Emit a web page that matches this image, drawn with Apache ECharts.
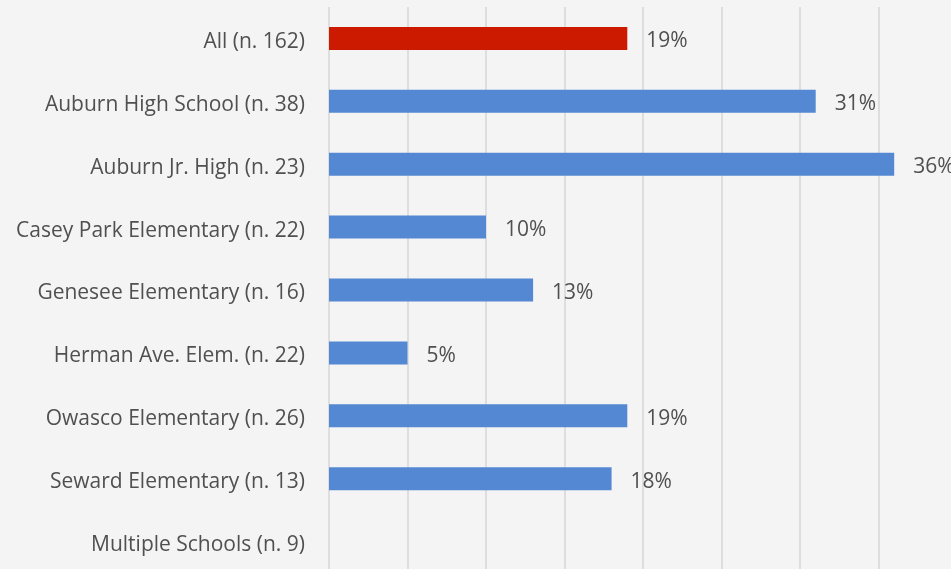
<!DOCTYPE html>
<html><head><meta charset="utf-8">
<script src="https://cdn.jsdelivr.net/npm/echarts@6/dist/echarts.min.js"></script>
<style>html,body{margin:0;padding:0;background:#f4f4f4;overflow:hidden;width:951px;height:569px;}#c{width:970px;height:590px;}</style>
</head><body><div id="c"></div>
<script>
const categories = ["All (n. 162)","Auburn High School (n. 38)","Auburn Jr. High (n. 23)","Casey Park Elementary (n. 22)","Genesee Elementary (n. 16)","Herman Ave. Elem. (n. 22)","Owasco Elementary (n. 26)","Seward Elementary (n. 13)","Multiple Schools (n. 9)"];
const values = [19,31,36,10,13,5,19,18,null];
const highlightIndex = 0;
const chart = echarts.init(document.getElementById('c'), null, {renderer:'canvas'});
chart.setOption({
  backgroundColor:'#f4f4f4',
  animation:false,
  grid:{left:329, top:7, width:628, height:566},
  xAxis:{type:'value', min:0, max:40, interval:5,
    axisLabel:{show:false}, axisLine:{show:false}, axisTick:{show:false},
    splitLine:{show:true, lineStyle:{color:'#dedede', width:2}}},
  yAxis:{type:'category', data:categories, inverse:true,
    axisLine:{show:false}, axisTick:{show:false},
    axisLabel:{margin:24, formatter:v=>'{a|'+v+'}',
      rich:{a:{color:'#505050', fontSize:21, fontFamily:'Open Sans', padding:[7,0,0,0]}}}},
  series:[{type:'bar', barWidth:23,
    data: values.map((v,i)=>({value:v, itemStyle:{color: i===highlightIndex ? '#cc1a00' : '#5588d2'}})),
    label:{show:true, position:'right', distance:19, offset:[0,3], formatter:p=>p.value==null?'':p.value+'%', color:'#505050', fontSize:21, fontFamily:'Open Sans'}
  }]
});
</script></body></html>
